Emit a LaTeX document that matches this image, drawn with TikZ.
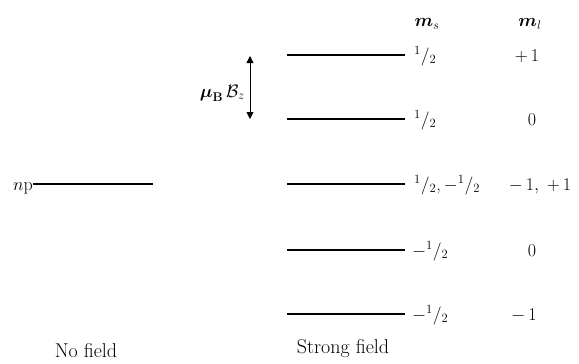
\RequirePackage{fix-cm}
\documentclass[tikz,border=0pt]{standalone}
\usepackage{amsmath}
\usetikzlibrary{arrows.meta}
\begin{document}
\begin{tikzpicture}[x=1pt,y=-1pt,
  lvl/.style={line width=1.2pt},
  txt/.style={inner sep=0pt,font=\fontsize{18}{21}\selectfont},
  lab/.style={txt,anchor=base west},
  mlab/.style={txt,anchor=base},
  captxt/.style={txt,anchor=base,font=\fontsize{20}{24}\selectfont}]
\useasboundingbox (0,0) rectangle (579,364);
% strong-field levels
\foreach \n/\y in {a/55,b/119,c/184,d/250,e/314}{
  \coordinate (\n L) at (287,\y);
  \coordinate (\n R) at (405,\y);
  \draw[lvl] (\n L) -- (\n R);
}
% no field level
\node[txt,anchor=base east] (np) at (33,190) {$n$p};
\coordinate (npL) at (33,184);
\coordinate (npR) at (153,184);
\draw[lvl] (npL) -- (npR);
% splitting arrow
\coordinate (arT) at (250,56);
\coordinate (arB) at (250,119);
\draw[line width=0.8pt,{Triangle[length=7pt,width=7pt]}-{Triangle[length=7pt,width=7pt]}] (arT) -- (arB);
\node[txt,anchor=base east] (mu) at (245,97) {$\boldsymbol{\mu}_{\mathbf{B}}\,\mathcal{B}_z$};
% headers
\node[mlab] (hms) at (427,27) {$\boldsymbol{m}_s$};
\node[mlab] (hml) at (530,27) {$\boldsymbol{m}_l$};
% ms labels
\newcommand{\hf}{${}^1/{}_2$}
\newcommand{\mhf}{$-{}^1/{}_2$}
\node[lab] (s1) at (414,61) {\hf};
\node[lab] (s2) at (414,125) {\hf};
\node[lab] (s3) at (414,190) {\hf,\,\mhf};
\node[lab] (s4) at (412,256) {\mhf};
\node[lab] (s5) at (412,320) {\mhf};
% ml labels
\node[mlab] (l1) at (527,61) {$+\,1$};
\node[mlab] (l2) at (532,125) {$0$};
\node[mlab] (l3) at (540,190) {$-\,1,\;+\,1$};
\node[mlab] (l4) at (532,256) {$0$};
\node[mlab] (l5) at (524,320) {$-\,1$};
% captions
\node[captxt] (nf) at (86,357) {No field};
\node[captxt] (sf) at (343,353) {Strong field};
\end{tikzpicture}
\end{document}
